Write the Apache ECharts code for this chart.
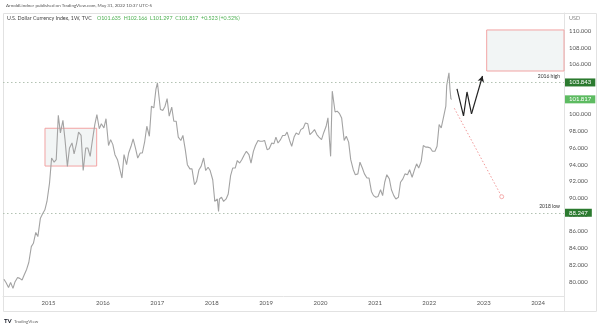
<!DOCTYPE html>
<html>
<head>
<meta charset="utf-8">
<script src="https://cdn.jsdelivr.net/npm/echarts@6/dist/echarts.min.js"></script>
<style>
html, body { margin: 0; padding: 0; background: #fff; }
#chart { width: 600px; height: 326px; }
</style>
</head>
<body>
<div id="chart"></div>
<script>
const dates = [
  "2014-03-08","2014-03-22","2014-04-08","2014-04-22","2014-05-08","2014-05-22","2014-06-08","2014-06-22",
  "2014-07-08","2014-07-22","2014-08-08","2014-08-22","2014-09-08","2014-09-22","2014-10-08","2014-10-22",
  "2014-11-08","2014-11-22","2014-12-08","2014-12-22",
  "2015-01-08","2015-01-22","2015-02-08","2015-02-22","2015-03-08","2015-03-22","2015-04-08","2015-04-22",
  "2015-05-08","2015-05-22","2015-06-08","2015-06-22","2015-07-08","2015-07-22","2015-08-08","2015-08-22",
  "2015-09-08","2015-09-22","2015-10-08","2015-10-22","2015-11-08","2015-11-22","2015-12-08","2015-12-22",
  "2016-01-08","2016-01-22","2016-02-08","2016-02-22","2016-03-08","2016-03-22","2016-04-08","2016-04-22",
  "2016-05-08","2016-05-22","2016-06-08","2016-06-22","2016-07-08","2016-07-22","2016-08-08","2016-08-22",
  "2016-09-08","2016-09-22","2016-10-08","2016-10-22","2016-11-08","2016-11-22","2016-12-08","2016-12-22",
  "2017-01-02","2017-01-22","2017-02-08","2017-02-22","2017-03-08","2017-03-22","2017-04-08","2017-04-22",
  "2017-05-08","2017-05-22","2017-06-08","2017-06-22","2017-07-08","2017-07-22","2017-08-08","2017-08-22",
  "2017-09-08","2017-09-22","2017-10-08","2017-10-22","2017-11-08","2017-11-22","2017-12-08","2017-12-22",
  "2018-01-08","2018-01-22","2018-02-08","2018-02-16","2018-02-22","2018-03-08","2018-03-22","2018-04-08",
  "2018-04-22","2018-05-08","2018-05-22","2018-06-08","2018-06-22","2018-07-08","2018-07-22","2018-08-08",
  "2018-08-22","2018-09-08","2018-09-22","2018-10-08","2018-10-22","2018-11-08","2018-11-22","2018-12-08",
  "2018-12-22",
  "2019-01-08","2019-01-22","2019-02-08","2019-02-22","2019-03-08","2019-03-22","2019-04-08","2019-04-22",
  "2019-05-08","2019-05-22","2019-06-08","2019-06-22","2019-07-08","2019-07-22","2019-08-08","2019-08-22",
  "2019-09-08","2019-09-22","2019-10-08","2019-10-22","2019-11-08","2019-11-22","2019-12-08","2019-12-22",
  "2020-01-08","2020-01-22","2020-02-08","2020-02-20","2020-03-09","2020-03-20","2020-04-08","2020-04-22",
  "2020-05-08","2020-05-22","2020-06-08","2020-06-22","2020-07-08","2020-07-22","2020-08-08","2020-08-22",
  "2020-09-08","2020-09-22","2020-10-08","2020-10-22","2020-11-08","2020-11-22","2020-12-08","2020-12-22",
  "2021-01-08","2021-01-22","2021-02-08","2021-02-22","2021-03-08","2021-03-22","2021-04-08","2021-04-22",
  "2021-05-08","2021-05-22","2021-06-08","2021-06-22","2021-07-08","2021-07-22","2021-08-08","2021-08-22",
  "2021-09-08","2021-09-22","2021-10-08","2021-10-22","2021-11-08","2021-11-22","2021-12-08","2021-12-22",
  "2022-01-08","2022-01-22","2022-02-08","2022-02-22","2022-03-08","2022-03-22","2022-04-08","2022-04-22",
  "2022-04-28","2022-05-06","2022-05-13","2022-05-20","2022-05-26","2022-05-31"
];
const dxy = [
  80.3, 79.9, 79.3, 79.9, 79.2, 80.0, 80.5, 80.4,
  80.2, 80.8, 81.5, 82.3, 84.2, 84.6, 85.9, 85.4,
  87.6, 88.1, 88.6, 89.6,
  91.8, 94.8, 94.3, 94.6, 99.9, 97.8, 99.3, 97.0,
  93.8, 96.0, 96.6, 95.3, 96.5, 97.9, 97.5, 93.3,
  96.0, 96.0, 95.0, 96.8, 98.8, 100.0, 98.3, 98.9,
  98.4, 99.5, 96.3, 97.0, 96.4, 95.2, 94.6, 93.6,
  92.4, 95.2, 94.0, 95.4, 96.2, 97.1, 95.9, 94.8,
  95.4, 95.4, 96.8, 98.6, 97.4, 101.0, 100.8, 103.0,
  103.8, 100.6, 100.5, 101.0, 101.9, 99.8, 100.9, 99.2,
  99.2, 97.3, 96.9, 97.5, 95.8, 94.0, 93.5, 93.5,
  91.6, 92.0, 93.4, 93.8, 94.8, 93.3, 93.7, 93.3,
  92.2, 89.6, 89.9, 88.4, 89.9, 90.1, 89.6, 89.9,
  90.5, 92.7, 93.6, 93.6, 94.5, 94.2, 94.6, 95.2,
  95.6, 95.2, 94.2, 95.6, 96.3, 96.9, 96.8, 96.8,
  96.9,
  95.8, 95.9, 96.6, 96.5, 97.3, 96.6, 97.0, 97.5,
  97.5, 97.9, 96.9, 96.2, 97.3, 97.8, 97.6, 98.2,
  98.4, 99.0, 98.9, 97.6, 97.9, 98.2, 97.6, 97.3,
  97.0, 97.8, 98.6, 99.6, 95.0, 102.8, 100.3, 100.4,
  100.1, 99.6, 96.9, 97.4, 96.7, 94.6, 93.4, 92.8,
  92.9, 94.3, 93.6, 92.9, 92.4, 92.4, 90.8, 90.3,
  90.1, 90.2, 91.0, 90.3, 91.9, 92.8, 92.3, 91.0,
  90.3, 89.9, 90.1, 91.9, 92.3, 92.9, 92.8, 93.4,
  92.5, 93.3, 94.1, 93.6, 94.4, 96.3, 96.1, 96.1,
  96.0, 95.6, 95.6, 96.2, 98.8, 98.4, 99.8, 101.0,
  103.5, 103.7, 105.0, 103.0, 101.9, 101.8
];

const yearTicks = [2015, 2016, 2017, 2018, 2019, 2020, 2021, 2022, 2023, 2024];
const priceTicks = [80, 82, 84, 86, 88, 90, 92, 94, 96, 98, 100, 102, 104, 106, 108, 110];

const high2016 = 103.843;
const low2018 = 88.247;
const lastClose = 101.817;

// drawings on the chart, [year, price]
const rangeBox = [[2014.936, 98.36], [2015.886, 93.84]];
const targetBox = [[2023.055, 110.12], [2024.476, 105.21]];
const wPath = [[2022.509, 103.06], [2022.629, 99.83], [2022.693, 102.70], [2022.776, 100.09], [2022.978, 104.61]];
const dropPath = [[2022.46, 100.75], [2023.331, 90.17]];

const FONT = "Lato, 'Open Sans', sans-serif";
const HIDDEN = "rgba(0,0,0,0)";

function toYear(s) {
  const p = s.split("-").map(Number);
  const start = Date.UTC(p[0], 0, 1);
  return p[0] + (Date.UTC(p[0], p[1] - 1, p[2]) - start) / (365.25 * 864e5);
}

const points = dates.map((d, i) => [toYear(d), dxy[i]]);

function priceLine(val, bg, showLine) {
  return {
    yAxis: val,
    lineStyle: showLine
      ? { color: "#b3c2b3", type: [1.5, 2.5], width: 1 }
      : { color: HIDDEN, width: 0 },
    label: {
      show: true, position: "end", distance: 1,
      formatter: val.toFixed(3),
      backgroundColor: bg, color: "#fff",
      fontSize: 6, fontFamily: FONT, padding: [1, 4], lineHeight: 6
    }
  };
}
function noteLine(val, text) {
  return {
    yAxis: val,
    lineStyle: { color: HIDDEN, width: 0 },
    label: {
      show: true, position: "insideEndTop", distance: 4,
      formatter: text, color: "#333", fontSize: 5, fontFamily: FONT
    }
  };
}

var myChart = echarts.init(document.getElementById("chart"));
myChart.setOption({
  animation: false,
  backgroundColor: "#fff",
  grid: { left: 3, right: 36, top: 13, bottom: 30 },
  xAxis: {
    type: "value",
    min: 2014.164,
    max: 2024.476,
    axisLine: { show: true, lineStyle: { color: "#e3e3e3" } },
    axisTick: { show: false },
    splitLine: { show: false },
    axisLabel: {
      customValues: yearTicks,
      formatter: (v) => String(v),
      fontSize: 6, color: "#555", margin: 4, fontFamily: FONT
    }
  },
  yAxis: {
    type: "value",
    position: "right",
    min: 78.29,
    max: 112.15,
    axisLine: { show: true, lineStyle: { color: "#e3e3e3" } },
    axisTick: { show: false },
    splitLine: { show: false },
    axisLabel: {
      customValues: priceTicks,
      formatter: (v) => v.toFixed(3),
      fontSize: 6, color: "#555", margin: 5, fontFamily: FONT
    }
  },
  series: [
    {
      name: "boxes",
      type: "line",
      data: [],
      z: 1,
      silent: true,
      markArea: {
        silent: true,
        itemStyle: { color: "rgba(232,236,236,0.55)", borderColor: "#f2a3a3", borderWidth: 1 },
        data: [
          [{ coord: rangeBox[0] }, { coord: rangeBox[1] }],
          [{ coord: targetBox[0] }, { coord: targetBox[1] }]
        ]
      }
    },
    {
      name: "DXY",
      type: "line",
      data: points,
      showSymbol: false,
      z: 2,
      lineStyle: { color: "#a3a3a3", width: 1.1 },
      markLine: {
        silent: true,
        symbol: "none",
        data: [
          priceLine(high2016, "#2b7a2f", true),
          noteLine(high2016, "2016 high"),
          priceLine(low2018, "#2b7a2f", true),
          noteLine(low2018, "2018 low"),
          priceLine(lastClose, "#5dbb61", false)
        ]
      }
    },
    {
      name: "W",
      type: "line",
      data: wPath.slice(0, 4),
      showSymbol: false,
      z: 5,
      lineStyle: { color: "#222", width: 1.2 },
      markLine: {
        silent: true,
        symbol: ["none", "arrow"],
        symbolSize: [5, 6],
        lineStyle: { color: "#222", width: 1.2, type: "solid" },
        label: { show: false },
        data: [[{ coord: wPath[3] }, { coord: wPath[4] }]]
      }
    },
    {
      name: "drop",
      type: "line",
      z: 4,
      showAllSymbol: true,
      lineStyle: { color: "#f29a9a", width: 1, type: [1.5, 2] },
      itemStyle: { color: "#fff", borderColor: "#f29a9a", borderWidth: 0.8 },
      data: [
        { value: dropPath[0], symbol: "none" },
        { value: dropPath[1], symbol: "circle", symbolSize: 4 }
      ]
    }
  ],
  graphic: [
    {
      type: "rect", silent: true, z: -1,
      shape: { x: 3.5, y: 13.5, width: 593, height: 298 },
      style: { fill: null, stroke: "#e2e2e2", lineWidth: 1 }
    },
    {
      type: "line", silent: true,
      shape: { x1: 564.5, y1: 296, x2: 564.5, y2: 312 },
      style: { stroke: "#e3e3e3", lineWidth: 1 }
    },
    {
      type: "text", left: 6, top: 3,
      style: { text: "ArnoldLindner published on TradingView.com, May 31, 2022 10:37 UTC-5",
               fontSize: 4.5, fill: "#555", fontFamily: FONT }
    },
    {
      type: "text", left: 7, top: 16,
      style: { text: "U.S. Dollar Currency Index, 1W, TVC", fontSize: 5.3, fill: "#444", fontFamily: FONT }
    },
    {
      type: "text", left: 97, top: 16,
      style: { text: "O101.635  H102.166  L101.297  C101.817  +0.523 (+0.52%)",
               fontSize: 5.3, fill: "#4caf50", fontFamily: FONT }
    },
    {
      type: "text", left: 569, top: 15,
      style: { text: "USD", fontSize: 5.5, fill: "#888", fontFamily: FONT }
    },
    {
      type: "text", left: 4, top: 318,
      style: { text: "TV", fontSize: 6, fontWeight: "bold", fill: "#131722", fontFamily: FONT }
    },
    {
      type: "text", left: 14, top: 319,
      style: { text: "TradingView", fontSize: 4.5, fill: "#666", fontFamily: FONT }
    }
  ]
});
</script>
</body>
</html>
